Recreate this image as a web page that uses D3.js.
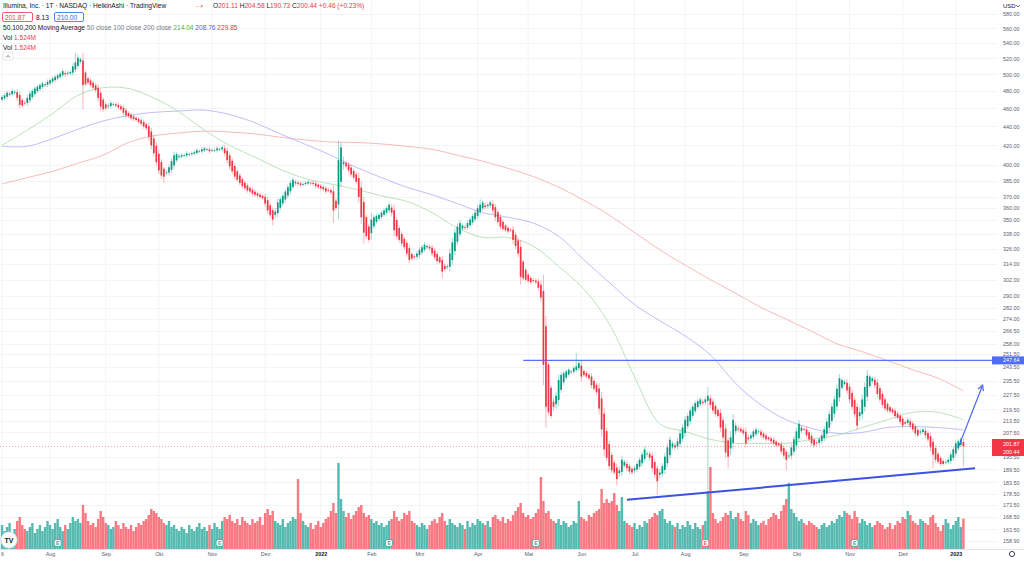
<!DOCTYPE html>
<html><head><meta charset="utf-8">
<script src="https://cdn.jsdelivr.net/npm/d3@7"></script>
<style>
body{margin:0;background:#fff;overflow:hidden}
svg{display:block;font-family:"Liberation Sans",Arial,sans-serif}
</style></head>
<body><svg id="c" width="1024" height="561"></svg>
<script>
// ---------------- DATA ----------------
const startDate = "2021-07-06";
const endDate = "2023-01-06";
const holidays = ["2021-09-06","2021-11-25","2021-12-24","2022-01-17","2022-02-21","2022-04-15","2022-05-30","2022-06-20","2022-07-04","2022-09-05","2022-11-24","2022-12-26","2023-01-02"];

// Heikin-Ashi close per trading day (USD)
const closes = [
473,475,478,477,480,479,472,464,463,466,
472,477,480,483,485,487,489,488,491,493,
495,497,499,501,504,500,502,503,510,515,
521,519,487,488,490,487,484,481,472,462,
459,460,463,466,465,463,461,459,455,452,
451,449,448,447,445,443,440,438,429,420,
412,403,395,390,389,393,398,404,410,411,
409,410,410,412,411,412,413,415,414,416,
417,416,414,415,415,417,416,418,412,405,
399,394,389,386,383,380,378,376,375,373,
372,371,370,369,364,358,354,350,357,365,
368,371,375,379,383,386,384,382,381,382,
383,384,383,382,380,379,378,377,375,376,
374,358,360,405,418,403,399,395,391,388,
384,370,352,339,336,333,350,352,353,354,
356,358,360,363,356,341,336,333,330,327,
322,317,318,319,322,325,327,329,328,326,
322,319,316,315,308,310,312,322,331,339,
344,347,345,343,347,350,353,356,360,363,
365,361,363,365,358,352,348,344,342,341,
340,341,333,328,322,304,303,302,301,300,
301,300,296,289,245,221,218,216,221,227,
236,239,240,241,242,241,243,244,246,238,
239,238,237,233,231,229,220,209,199,195,
191,189,188,185,189,194,193,190,188.5,188,
190,192,194,196.5,199,197,195,190,187,184,
188,191,195.5,200,203.8,202,200,203,207,210,
214,216,219,221,223,224,225,223,225,227,
222,219,217,216,210,205,197.5,195.5,205,214,
211,209,208,207,202,204,206,208,209,208,
206,205,204,204,203,202,201,201,198,196,
194,196,200,204,208,212,210,209,206,204,
202,201,202,204,206,209,213,217,221,225,
231,237,236,235,230,225,221,217,211,218,
225,232,238.5,238,237,233,228,225,222,220,
219,218.5,218,216,215,213,211,212,214,211,
209,207,206,208,209,206,204,200,196.5,194,
193,192,192,193,194,196.5,199,202,203,204,
200.44
];

// Volume per trading day (millions)
const volumes = [
1.2,0.9,1.1,1.3,0.8,1.0,1.4,1.6,1.2,1.0,
0.9,1.1,1.3,0.8,1.0,1.2,0.9,1.1,1.4,1.2,
1.0,1.3,1.5,1.1,0.9,1.2,1.0,1.3,1.6,1.4,
1.5,1.3,2.2,1.8,1.4,1.2,1.3,1.1,1.5,1.9,
1.6,1.3,1.2,1.0,1.1,1.4,1.2,1.0,1.3,1.1,
1.0,1.2,0.9,1.1,1.3,1.2,1.4,1.5,1.7,2.0,
1.9,1.8,1.6,1.5,1.3,1.2,1.4,1.1,1.2,1.0,
0.9,1.1,1.0,0.8,1.2,1.0,0.9,1.1,1.3,1.0,
1.1,0.9,1.2,1.0,1.3,1.1,1.0,1.4,1.6,1.5,
1.7,1.4,1.3,1.5,1.2,1.6,1.4,1.3,1.2,1.5,
1.3,1.4,1.6,1.2,1.8,2.0,1.7,1.9,1.4,1.3,
1.2,1.5,1.1,1.3,1.4,1.6,1.5,3.5,1.8,1.4,
1.2,1.1,1.3,1.0,1.2,1.4,1.1,1.3,1.5,1.6,
1.9,2.3,1.8,4.3,2.5,1.9,1.6,1.8,1.5,1.7,
1.9,2.1,2.2,1.8,1.6,1.7,1.5,1.3,1.4,1.2,
1.3,1.1,1.2,1.4,1.5,1.9,1.6,1.4,1.5,1.8,
1.7,1.9,1.4,1.3,1.2,1.1,1.3,1.2,1.0,1.2,
1.4,1.5,1.3,1.6,1.8,1.4,1.2,1.5,1.3,1.2,
1.1,1.3,1.2,1.0,1.4,1.1,1.3,1.2,1.5,1.4,
1.3,1.2,1.4,1.1,1.6,1.7,1.5,1.4,1.6,1.3,
1.5,1.4,1.7,1.9,2.1,2.3,1.8,1.6,1.7,1.5,
1.6,1.8,2.0,3.6,2.4,1.8,1.9,1.5,1.4,1.3,
1.5,1.2,1.4,1.3,1.1,1.2,1.4,1.3,2.4,1.6,
1.5,1.4,1.7,1.6,1.8,1.9,2.0,3.0,2.3,2.5,
2.3,2.4,2.8,2.2,1.9,2.6,1.4,1.3,1.2,1.1,
1.3,1.0,1.2,1.1,1.4,1.3,1.5,1.6,1.8,1.7,
1.9,2.0,1.5,1.3,1.4,1.2,1.1,1.3,1.0,1.2,
1.1,1.4,1.2,1.0,1.3,1.1,1.0,1.2,1.4,2.9,
4.1,1.8,1.5,1.3,1.4,1.6,1.8,1.7,1.9,1.5,
1.6,1.8,1.5,1.4,1.9,1.7,1.3,1.5,1.4,1.2,
1.3,1.4,1.2,1.5,1.6,1.8,1.7,1.5,1.9,2.2,
2.5,3.3,2.0,1.8,1.6,1.4,1.5,1.3,1.2,1.4,
1.3,1.2,1.1,1.0,1.2,1.3,1.1,1.2,1.4,1.3,
1.5,1.7,1.6,1.9,1.8,1.7,1.5,1.9,1.6,1.3,
1.5,1.4,1.2,1.3,1.1,1.2,1.4,1.3,1.2,1.0,
1.1,1.3,1.0,1.2,1.4,1.3,1.6,1.5,1.9,1.7,
1.4,1.3,1.2,1.5,1.4,1.3,1.2,1.6,1.7,1.3,
1.1,0.9,1.2,1.5,1.3,1.0,1.2,1.4,1.6,1.1,
1.524
];

// Moving averages, sampled every 10 trading days
const maStep = 10;
const ma50 = [420,436,454,475,484,483,472,456,436,420,408,396,387,382,377,371,366,356,343,335,335,328,312,295,271,238,212,208,204,202,202,202,204,206,210,214,218,218,214.04];
const ma100 = [419,419,427,437,446,452,455.5,457,458,453,444,432,421,410,398,388,379,372,364,356,352,347,336,317,300,284,273,263,251,234,222,214,209.6,207,207.5,210,210.5,210,208.76];
const ma200 = [382,388,394,402,410,423,430,433,435,434,432,428.5,425.6,423.5,423,421.5,419,416,410,404,397,389,379,367,354,339,325,313,302,292,282,274,266,258,253,247.5,242,237,229.85];

// special wick extremes [day index, price]
const wickLows = [[32,459],[64,383],[107,345],[131,347],[143,330],[174,303],[215,210],[243,182],[259,178],[279,180],[287,190],[310,189],[368,190],[380,190.73]];
const wickHighs = [[29,527],[133,425],[189,368],[227,252],[279,232],[342,242],[380,204.58]];

const priceTicks = [580,560,540,520,500,480,460,440,420,400,385,370,360,350,338,326,314,302,290,282,274,266.5,258,251.5,243.5,235.5,227.5,219.5,213.5,207.5,195.5,189.5,183.5,178.5,173.5,168.5,163.5,158.9];
const monthNames = ["Jan","Feb","Mrz","Apr","Mai","Jun","Jul","Aug","Sep","Okt","Nov","Dez"];

const levelPrice = 247.64;
const levelFromDay = 206;
const trend = [[247,175.8],[384.6,190]];
const arrow = [[378,200],[387.6,233]];
const earnings = [[22,"up"],[86,"up"],[153,"up"],[211,"up"],[278,"down"],[337,"up"]];

// ---------------- BUILD ----------------
const parse = d3.timeParse("%Y-%m-%d");
const fmt = d3.timeFormat("%Y-%m-%d");
const hol = new Set(holidays);
const dates = d3.timeDay.range(parse(startDate), d3.timeDay.offset(parse(endDate),1))
  .filter(d => d.getDay()!==0 && d.getDay()!==6 && !hol.has(fmt(d)));

const n = closes.length;
const opens = [];
for (let i=0;i<n;i++) opens.push(i===0 ? 470 : (opens[i-1]+closes[i-1])/2);
const lowMap = new Map(wickLows), highMap = new Map(wickHighs);
const bars = closes.map((c,i)=>{
  const o = opens[i];
  const prev = i>0?closes[i-1]:c;
  const w = 0.25*Math.abs(c-prev) + 0.004*c;
  let hi = Math.max(o,c) + w, lo = Math.min(o,c) - w;
  if (highMap.has(i)) hi = highMap.get(i);
  if (lowMap.has(i)) lo = lowMap.get(i);
  return {i, date:dates[i], o, c, hi, lo, v:volumes[i], up: c>=o};
});

const W=1024, H=561;
const plotRight = 997, axisY = 549;
const x = d3.scaleLinear().domain([0, 380]).range([2, 963.4]);
const y = d3.scaleLog().domain([158.9, 580]).range([541, 14]);
const vy = d3.scaleLinear().domain([0, 1]).range([0, 20]);

const svg = d3.select("#c");
svg.append("rect").attr("width",W).attr("height",H).attr("fill","#fff");

// grid
const monthStarts = [];
dates.forEach((d,i)=>{ if(i===0 || d.getMonth()!==dates[i-1].getMonth()) monthStarts.push(i); });
const g = svg.append("g");
g.selectAll(".vg").data(monthStarts).join("line")
  .attr("x1",d=>x(d)).attr("x2",d=>x(d)).attr("y1",0).attr("y2",axisY)
  .attr("stroke","#f3f4f6").attr("stroke-width",1);
g.selectAll(".hg").data(priceTicks).join("line")
  .attr("x1",0).attr("x2",plotRight).attr("y1",d=>Math.round(y(d))+0.5).attr("y2",d=>Math.round(y(d))+0.5)
  .attr("stroke","#f3f4f6").attr("stroke-width",1);

// volume
const upCol="#089981", dnCol="#f23645";
svg.append("g").selectAll("rect").data(bars).join("rect")
  .attr("x",d=>x(d.i)-1.2).attr("width",2.4)
  .attr("y",d=>axisY-vy(d.v)).attr("height",d=>vy(d.v))
  .attr("fill",d=>d.up?"#26a69a":"#f7525f").attr("opacity",0.78);

// moving averages
const maLine = d3.line().x((d,k)=>x(k*maStep)).y(d=>y(d)).curve(d3.curveCatmullRom.alpha(0.5));
[[ma200,"#f7a1a6"],[ma100,"#a9a8f5"],[ma50,"#a5d8a7"]].forEach(([arr,col])=>{
  svg.append("path").attr("d",maLine(arr)).attr("fill","none").attr("stroke",col).attr("stroke-width",1).attr("opacity",0.75);
});

// level line
svg.append("line").attr("x1",x(levelFromDay)).attr("x2",plotRight)
  .attr("y1",y(levelPrice)).attr("y2",y(levelPrice)).attr("stroke","#5872f5").attr("stroke-width",1.2);

// current price dotted line
svg.append("line").attr("x1",0).attr("x2",plotRight).attr("y1",y(closes[n-1])).attr("y2",y(closes[n-1]))
  .attr("stroke","#f7525f").attr("stroke-width",0.8).attr("stroke-dasharray","1,2").attr("opacity",0.7);

// candles
const cg = svg.append("g");
cg.selectAll(".w").data(bars).join("line")
  .attr("x1",d=>x(d.i)).attr("x2",d=>x(d.i)).attr("y1",d=>y(d.hi)).attr("y2",d=>y(d.lo))
  .attr("stroke",d=>d.up?upCol:dnCol).attr("stroke-width",0.9).attr("opacity",0.4);
cg.selectAll(".b").data(bars).join("rect")
  .attr("x",d=>x(d.i)-0.85).attr("width",1.7)
  .attr("y",d=>y(Math.max(d.o,d.c))).attr("height",d=>Math.max(0.8, y(Math.min(d.o,d.c))-y(Math.max(d.o,d.c))))
  .attr("fill",d=>d.up?upCol:dnCol);

// trend line & arrow
svg.append("line").attr("x1",x(trend[0][0])).attr("y1",y(trend[0][1])).attr("x2",x(trend[1][0])).attr("y2",y(trend[1][1]))
  .attr("stroke","#3d52e0").attr("stroke-width",2);
const ax1=x(arrow[0][0]), ay1=y(arrow[0][1]), ax2=x(arrow[1][0]), ay2=y(arrow[1][1]);
svg.append("line").attr("x1",ax1).attr("y1",ay1).attr("x2",ax2).attr("y2",ay2).attr("stroke","#4a67f0").attr("stroke-width",1.2);
const ang=Math.atan2(ay2-ay1,ax2-ax1);
const hl=6;
svg.append("path").attr("d",`M${ax2-hl*Math.cos(ang-0.5)},${ay2-hl*Math.sin(ang-0.5)}L${ax2},${ay2}L${ax2-hl*Math.cos(ang+0.5)},${ay2-hl*Math.sin(ang+0.5)}`)
  .attr("fill","none").attr("stroke","#4a67f0").attr("stroke-width",1.2);

// earnings markers
const em = svg.append("g");
earnings.forEach(([i,t])=>{
  const gx=x(i), gy=543;
  const col = t==="up"?"#26a69a":"#f7525f";
  em.append("rect").attr("x",gx-3.5).attr("y",gy-3.5).attr("width",7).attr("height",7).attr("rx",2).attr("fill","#fff").attr("stroke",col).attr("stroke-width",0.8);
  em.append("text").attr("x",gx).attr("y",gy+2).attr("text-anchor","middle").attr("font-size",5).attr("font-weight","bold").attr("fill",col).text("E");
});

// TV logo
svg.append("circle").attr("cx",9).attr("cy",540).attr("r",8).attr("fill","#fff").attr("stroke","#e0e3eb");
svg.append("text").attr("x",9).attr("y",542.5).attr("text-anchor","middle").attr("font-size",7).attr("font-weight","bold").attr("fill","#131722").text("TV");

// axes
svg.append("rect").attr("x",plotRight).attr("y",0).attr("width",W-plotRight).attr("height",H).attr("fill","#fff");
svg.append("line").attr("x1",0).attr("x2",W).attr("y1",axisY+0.5).attr("y2",axisY+0.5).attr("stroke","#e0e3eb");
svg.append("rect").attr("x",0).attr("y",axisY+1).attr("width",W).attr("height",H-axisY).attr("fill","#fff");

const yAxis = d3.axisRight(y).tickValues(priceTicks).tickFormat(d=>d.toFixed(2)).tickSize(0).tickPadding(0);
const ya = svg.append("g").attr("transform",`translate(1003,0)`).call(yAxis);
ya.select(".domain").remove();
ya.selectAll("text").attr("font-size",5.4).attr("fill","#5d606b").attr("dy","0.32em").style("font-family","Liberation Sans, Arial, sans-serif");

const xAxis = d3.axisBottom(x).tickValues(monthStarts).tickSize(0).tickPadding(0)
  .tickFormat(i=>{ if(i===0) return String(dates[0].getDate()); const d=dates[i]; return d.getMonth()===0? String(d.getFullYear()) : monthNames[d.getMonth()]; });
const xa = svg.append("g").attr("transform",`translate(0,${axisY+3})`).call(xAxis);
xa.select(".domain").remove();
xa.selectAll("text").attr("font-size",5.4).style("font-family","Liberation Sans, Arial, sans-serif")
  .attr("font-weight",i=>(i>0 && dates[i].getMonth()===0)?"bold":"normal")
  .attr("fill",i=>(i>0 && dates[i].getMonth()===0)?"#131722":"#5d606b");

// price label boxes on axis
svg.append("rect").attr("x",992).attr("y",y(levelPrice)-4).attr("width",32).attr("height",8).attr("fill","#4e6cf5");
svg.append("text").attr("x",1003).attr("y",y(levelPrice)+2).attr("font-size",5.4).attr("fill","#fff").text(levelPrice.toFixed(2));
svg.append("rect").attr("x",992).attr("y",439).attr("width",32).attr("height",17).attr("fill","#f23645");
svg.append("text").attr("x",1003).attr("y",446).attr("font-size",5.4).attr("fill","#fff").text("201.87");
svg.append("text").attr("x",1003).attr("y",453.5).attr("font-size",5.4).attr("fill","#fff").text(closes[n-1].toFixed(2));
svg.append("text").attr("x",1003).attr("y",8).attr("font-size",6).attr("fill","#131722").text("USD");
svg.append("path").attr("d","M1016,5 l2,2 l2,-2").attr("fill","none").attr("stroke","#131722").attr("stroke-width",0.6);
svg.append("circle").attr("cx",1012).attr("cy",554).attr("r",2.6).attr("fill","none").attr("stroke","#131722").attr("stroke-width",0.8);

// legend
const L = svg.append("g").style("font-size","6.6px");
L.append("text").attr("x",3).attr("y",8).attr("fill","#131722").text("Illumina, Inc. · 1T · NASDAQ · HeikinAshi · TradingView");
L.append("text").attr("x",196).attr("y",8).attr("fill","#f23645").attr("font-size",5).text("− ×");
const ohlc = L.append("text").attr("x",213).attr("y",8);
[["O","#131722"],["201.11","#f23645"],[" H","#131722"],["204.58","#f23645"],[" L","#131722"],["190.73","#f23645"],[" C","#131722"],["200.44 +0.46 (+0.23%)","#f23645"]]
  .forEach(([t,c])=>ohlc.append("tspan").attr("fill",c).text(t));
L.append("rect").attr("x",2.5).attr("y",12.5).attr("width",30).attr("height",9).attr("rx",1.5).attr("fill","#fff").attr("stroke","#f23645").attr("stroke-width",0.8);
L.append("text").attr("x",5).attr("y",19.5).attr("fill","#f23645").text("201.87");
L.append("text").attr("x",36).attr("y",19.5).attr("fill","#131722").text("8.13");
L.append("rect").attr("x",54.5).attr("y",12.5).attr("width",29).attr("height",9).attr("rx",1.5).attr("fill","#fff").attr("stroke","#2962ff").attr("stroke-width",0.8);
L.append("text").attr("x",57).attr("y",19.5).attr("fill","#2962ff").text("210.00");
const ma = L.append("text").attr("x",3).attr("y",30);
[["50,100,200 Moving Average ","#131722"],["50 close 100 close 200 close  ","#787b86"],[ma50[ma50.length-1].toFixed(2)+" ","#4caf50"],[ma100[ma100.length-1].toFixed(2)+" ","#5b5cf0"],[ma200[ma200.length-1].toFixed(2),"#f23645"]]
  .forEach(([t,c])=>ma.append("tspan").attr("fill",c).text(t));
[40,49.5].forEach(yy=>{
  const t=L.append("text").attr("x",3).attr("y",yy);
  t.append("tspan").attr("fill","#131722").text("Vol  ");
  t.append("tspan").attr("fill","#f23645").text(volumes[n-1].toFixed(3)+"M");
});
L.append("rect").attr("x",3).attr("y",52).attr("width",10).attr("height",8).attr("rx",1).attr("fill","#fff").attr("stroke","#d1d4dc").attr("stroke-width",0.6);
L.append("path").attr("d","M6,57.5 l2,-2 l2,2").attr("fill","none").attr("stroke","#131722").attr("stroke-width",0.6);
</script>
</body></html>
